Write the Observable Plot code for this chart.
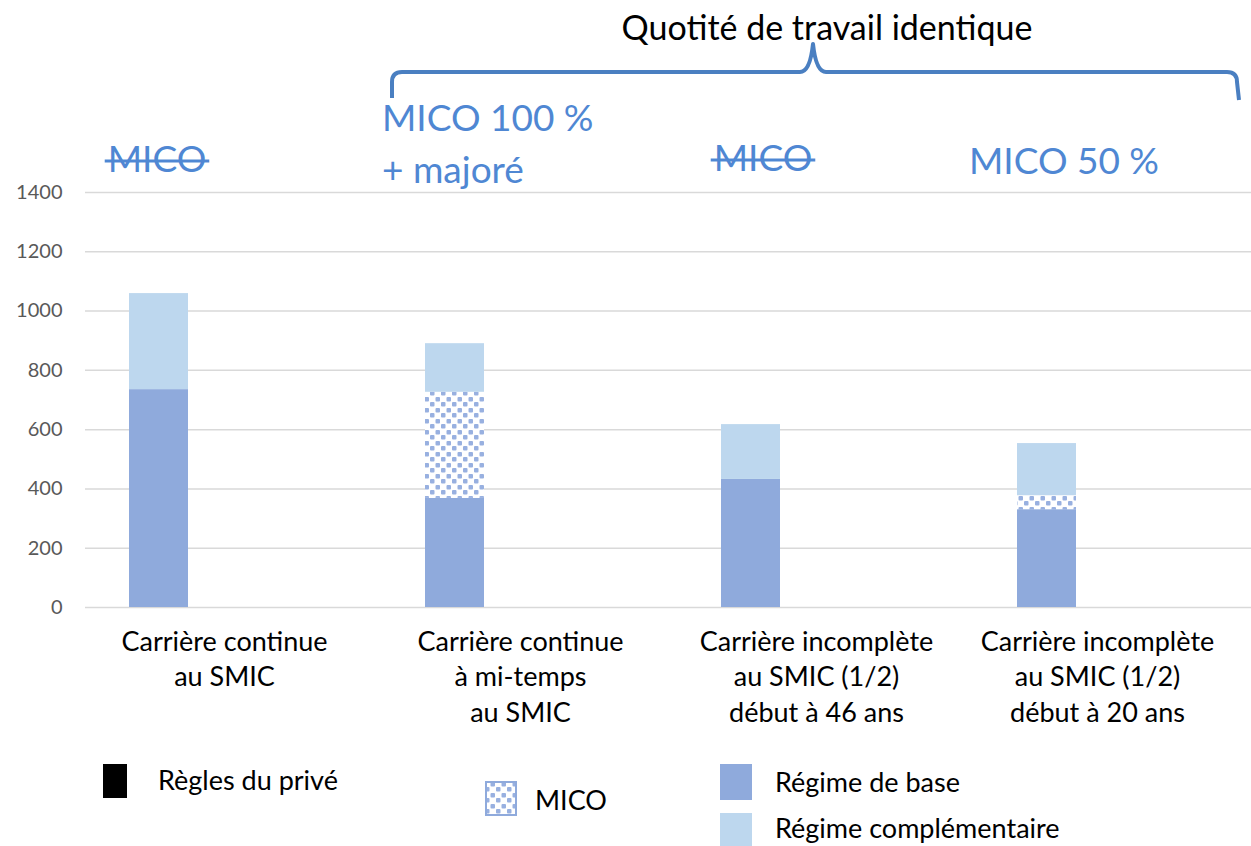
<!DOCTYPE html>
<html><head><meta charset="utf-8">
<script src="https://cdn.jsdelivr.net/npm/d3@7"></script>
<script src="https://cdn.jsdelivr.net/npm/@observablehq/plot@0.6"></script>
<style>
body{margin:0;background:#fff;}
#wrap{position:relative;width:1251px;height:846px;overflow:hidden;font-family:Lato,sans-serif;background:#fff}
#wrap > svg{position:absolute;left:0;top:0}
</style></head><body><div id="wrap"></div>
<script>
// ---- data ----
const categories = [
  "Carrière continue\nau SMIC",
  "Carrière continue\nà mi-temps\nau SMIC",
  "Carrière incomplète\nau SMIC (1/2)\ndébut à 46 ans",
  "Carrière incomplète\nau SMIC (1/2)\ndébut à 20 ans"
];
const seriesNames = ["Régime de base", "MICO", "Régime complémentaire"];
const regimeBase = [735, 368, 432, 330];
const micoValues = [0, 358, 0, 47];
const regimeComplementaire = [324, 164, 185, 176];
const yTicks = [0, 200, 400, 600, 800, 1000, 1200, 1400];
const annotationTexts = ["MICO", "MICO 100 %\n+ majoré", "MICO", "MICO 50 %"];
const annotationStruck = [true, false, true, false];
const titleText = "Quotité de travail identique";
const legendItems = ["Règles du privé", "MICO", "Régime de base", "Régime complémentaire"];

const BLUE = "#8faadc", LIGHT = "#bdd7ee", ANN = "#4f87d3";
const ns = "http://www.w3.org/2000/svg";

const rows = [];
categories.forEach((c, i) => {
  rows.push({category: c, series: seriesNames[0], value: regimeBase[i]});
  rows.push({category: c, series: seriesNames[1], value: micoValues[i]});
  rows.push({category: c, series: seriesNames[2], value: regimeComplementaire[i]});
});

function el(tag, attrs, parent) {
  const e = document.createElementNS(ns, tag);
  for (const k in attrs) e.setAttribute(k, attrs[k]);
  if (parent) parent.appendChild(e);
  return e;
}
function makePattern(defs, id) {
  const p = el("pattern", {id, patternUnits: "userSpaceOnUse", width: 11, height: 11}, defs);
  el("rect", {width: 11, height: 11, fill: "#fff"}, p);
  el("rect", {x: 1, y: 6, width: 4.5, height: 4.5, rx: 1, fill: "#98b0e0"}, p);
  el("rect", {x: 6.5, y: 1, width: 4.5, height: 4.5, rx: 1, fill: "#98b0e0"}, p);
  return p;
}

const chart = Plot.plot({
  width: 1251,
  height: 846,
  marginTop: 192,
  marginBottom: 239,
  marginLeft: 85,
  marginRight: 0,
  style: {fontFamily: "Lato, sans-serif", color: "#595959", background: "transparent", overflow: "visible"},
  x: {type: "band", domain: categories, range: [85, 1269], padding: 0, axis: null},
  y: {domain: [0, 1400], axis: null},
  color: {domain: seriesNames, range: [BLUE, "url(#micoPattern)", LIGHT]},
  marks: [
    () => { const d = document.createElementNS(ns, "defs"); makePattern(d, "micoPattern"); return d; },
    Plot.ruleY(yTicks, {stroke: "#d9d9d9", strokeWidth: 1.5}),
    Plot.axisY({ticks: yTicks, tickFormat: d => String(d), tickSize: 0, tickPadding: 23, fontSize: 20, fill: "#595959", label: null}),
    Plot.barY(rows, {x: "category", y: "value", fill: "series", order: seriesNames, insetLeft: 44, insetRight: 193}),
    Plot.text(categories.slice(0, 3), {x: d => d, frameAnchor: "bottom", text: d => d, lineAnchor: "top", dy: 18, dx: -9,
      lineHeight: 1.32, fontSize: 27, fill: "#000"}),
    Plot.text(categories.slice(3), {x: d => d, frameAnchor: "bottom", text: d => d, lineAnchor: "top", dy: 18, dx: -24,
      lineHeight: 1.32, fontSize: 27, fill: "#000"})
  ]
});
const wrap = document.getElementById("wrap");
wrap.appendChild(chart);

// ---- overlay: title, brace, annotations, legend ----
const ov = el("svg", {width: 1251, height: 846, viewBox: "0 0 1251 846"});
ov.style.fontFamily = "Lato, sans-serif";
wrap.appendChild(ov);
const defs = el("defs", {}, ov);
makePattern(defs, "micoLegend");

const t = el("text", {x: 827, y: 40, "text-anchor": "middle", "font-size": 34, fill: "#000"}, ov);
t.textContent = titleText;

el("path", {d: "M392,98 L392,82 Q392,72 402,72 L800,72 Q810,72 813,44 Q816,72 826,72 L1227,72 Q1237,72 1237,82 L1239,100",
  fill: "none", stroke: "#4a7fc1", "stroke-width": 4, "stroke-linejoin": "round"}, ov);

// annotations above each category
const annPos = [
  {x: 157, y: 172, anchor: "middle"},
  {x: 382, y: 131, anchor: "start"},
  {x: 763, y: 171, anchor: "middle"},
  {x: 1064, y: 174, anchor: "middle"}
];
annotationTexts.forEach((txt, i) => {
  const p = annPos[i];
  const te = el("text", {x: p.x, y: p.y, "text-anchor": p.anchor, "font-size": 37, fill: ANN}, ov);
  txt.split("\n").forEach((line, j) => {
    const ts = el("tspan", {x: p.x, dy: j === 0 ? 0 : 52}, te);
    ts.textContent = line;
  });
  if (annotationStruck[i]) {
    const w = te.getComputedTextLength();
    const x0 = p.anchor === "middle" ? p.x - w / 2 : p.x;
    el("line", {x1: x0 - 3, x2: x0 + w + 3, y1: p.y - 11, y2: p.y - 11, stroke: ANN, "stroke-width": 3}, ov);
  }
});

// legend
el("rect", {x: 103, y: 764, width: 24, height: 34, fill: "#000"}, ov);
el("text", {x: 158, y: 790, "font-size": 27, fill: "#000"}, ov).textContent = legendItems[0];
el("rect", {x: 486, y: 782, width: 30, height: 33, fill: "url(#micoLegend)", stroke: BLUE, "stroke-width": 2}, ov);
el("text", {x: 535, y: 810, "font-size": 27, fill: "#000"}, ov).textContent = legendItems[1];
el("rect", {x: 720, y: 764, width: 32, height: 36, fill: BLUE}, ov);
el("text", {x: 775, y: 792, "font-size": 27, fill: "#000"}, ov).textContent = legendItems[2];
el("rect", {x: 720, y: 813, width: 32, height: 33, fill: LIGHT}, ov);
el("text", {x: 775, y: 838, "font-size": 27, fill: "#000"}, ov).textContent = legendItems[3];
</script></body></html>
